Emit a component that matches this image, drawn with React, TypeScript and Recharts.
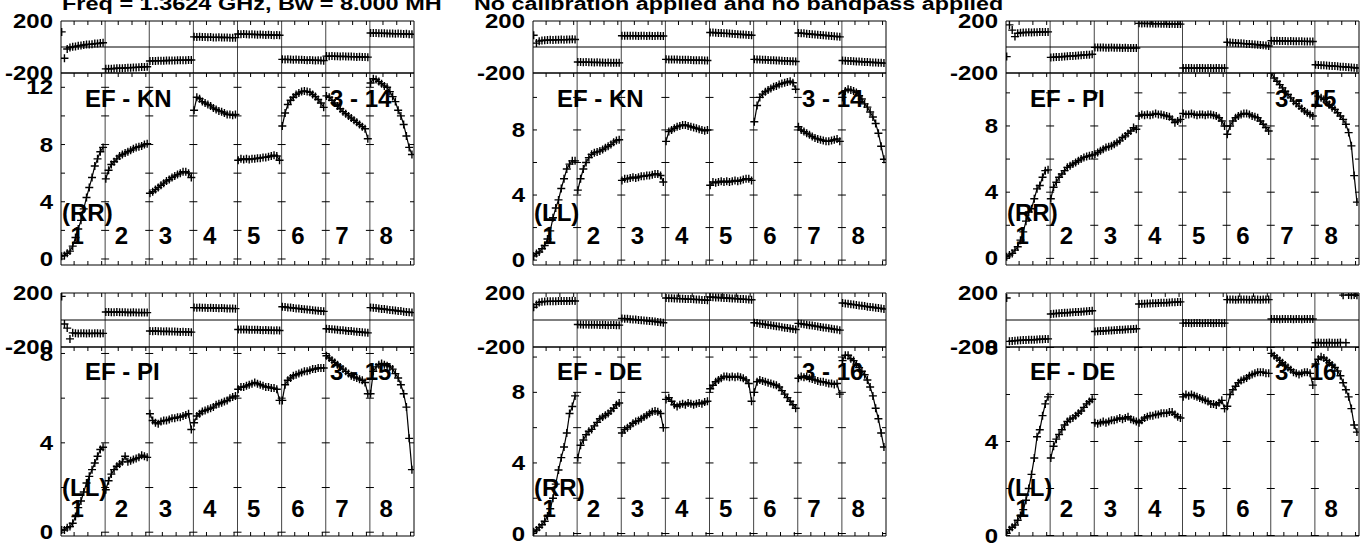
import React from 'react';
import { ScatterChart, Scatter, XAxis, YAxis, ReferenceLine, ReferenceDot } from 'recharts';

// every other channel of a 32-channel IF is plotted
const CHANNELS = [1, 3, 5, 7, 9, 11, 13, 15, 17, 19, 21, 23, 25, 27, 29, 31];
const CH_PER_IF = 32;
const IF_NAMES = ['1', '2', '3', '4', '5', '6', '7', '8'];
const X_TICK_CHANNELS = [10, 20, 30];
const PHASE_LABELS = [200, -200];
const PHASE_DOMAIN = [-200, 200];

const TITLE_LEFT = 'Freq = 1.3624 GHz, Bw = 8.000 MH';
const TITLE_RIGHT = 'No calibration applied and no bandpass applied';

// EF - KN (RR)
const ampKnRR = [
  [0.2, 0.25, 0.4, 0.55, 0.9, 1.5, 2.1, 2.7, 3.5, 4.3, 5.0, 5.7, 6.5, 7.0, 7.5, 7.8],
  [5.6, 6.2, 6.6, 6.8, 7.0, 7.2, 7.3, 7.4, 7.5, 7.6, 7.7, 7.8, 7.85, 7.9, 8.0, 8.05],
  [4.6, 4.7, 4.85, 5.0, 5.15, 5.3, 5.45, 5.55, 5.7, 5.8, 5.9, 6.0, 6.1, 6.1, 6.0, 5.7],
  [10.4, 11.3, 11.2, 11.0, 10.9, 10.8, 10.7, 10.55, 10.45, 10.35, 10.3, 10.2, 10.1, 10.1, 10.05, 10.1],
  [6.9, 7.0, 6.95, 7.0, 6.95, 7.0, 7.0, 7.05, 7.05, 7.1, 7.1, 7.15, 7.2, 7.25, 7.2, 6.9],
  [9.3, 10.2, 10.8, 11.1, 11.3, 11.5, 11.6, 11.7, 11.75, 11.7, 11.65, 11.5, 11.35, 11.15, 10.9, 10.6],
  [11.4, 11.3, 11.1, 10.9, 10.7, 10.5, 10.3, 10.15, 10.0, 9.85, 9.7, 9.55, 9.4, 9.25, 9.1, 8.4],
  [12.3, 12.6, 12.55, 12.4, 12.25, 12.1, 12.0, 11.7, 11.35, 11.0, 10.4, 10.0, 9.4, 8.6, 7.8, 7.3],
];
const phsKnRR = [
  [116, -86, -15, -4, 1, 4, 9, 11, 15, 19, 20, 22, 26, 27, 30, 33],
  [-168, -167, -167, -165, -164, -163, -163, -161, -160, -159, -158, -157, -156, -154, -153, -152],
  [-108, -107, -107, -106, -105, -106, -104, -104, -103, -103, -102, -101, -101, -101, -100, -100],
  [78, 77, 78, 76, 76, 75, 76, 74, 74, 75, 73, 73, 74, 72, 72, 72],
  [100, 99, 100, 98, 97, 98, 96, 95, 96, 94, 93, 94, 92, 91, 92, 90],
  [-95, -96, -95, -97, -98, -97, -99, -99, -100, -101, -100, -102, -103, -102, -104, -105],
  [-70, -71, -70, -71, -72, -73, -72, -73, -74, -74, -75, -76, -75, -77, -77, -78],
  [108, 107, 108, 106, 105, 106, 104, 104, 103, 102, 103, 101, 100, 101, 99, 98],
];

// EF - KN (LL)
const ampKnLL = [
  [0.25, 0.4, 0.5, 0.7, 0.9, 1.3, 1.8, 2.6, 3.2, 3.7, 4.4, 5.0, 5.6, 5.9, 6.1, 6.1],
  [4.3, 5.0, 5.6, 6.0, 6.3, 6.5, 6.6, 6.65, 6.7, 6.8, 6.9, 7.0, 7.1, 7.25, 7.35, 7.4],
  [4.9, 5.0, 5.0, 5.05, 5.1, 5.05, 5.1, 5.15, 5.15, 5.2, 5.2, 5.25, 5.3, 5.3, 5.2, 4.8],
  [7.3, 7.9, 8.0, 8.1, 8.2, 8.25, 8.3, 8.3, 8.25, 8.2, 8.15, 8.1, 8.05, 8.0, 7.95, 8.0],
  [4.6, 4.8, 4.75, 4.8, 4.85, 4.8, 4.85, 4.8, 4.85, 4.9, 4.85, 4.9, 4.95, 5.0, 5.0, 4.9],
  [8.5, 9.5, 10.0, 10.2, 10.35, 10.45, 10.55, 10.65, 10.7, 10.8, 10.85, 10.9, 10.95, 11.0, 10.9, 10.5],
  [8.2, 8.0, 7.9, 7.8, 7.7, 7.6, 7.5, 7.45, 7.4, 7.35, 7.3, 7.3, 7.35, 7.4, 7.45, 7.3],
  [10.0, 10.4, 10.5, 10.45, 10.4, 10.3, 10.1, 9.9, 9.6, 9.4, 9.1, 8.8, 8.4, 7.8, 7.0, 6.2],
];
const phsKnLL = [
  [90, 30, 45, 50, 52, 53, 55, 54, 55, 56, 57, 56, 57, 58, 59, 58],
  [-115, -116, -117, -116, -117, -118, -119, -118, -119, -120, -121, -120, -121, -122, -121, -122],
  [86, 87, 86, 86, 87, 86, 85, 86, 86, 85, 86, 85, 85, 86, 85, 85],
  [-95, -96, -97, -96, -97, -98, -99, -98, -99, -100, -101, -101, -102, -101, -103, -104],
  [112, 111, 109, 108, 107, 105, 105, 103, 101, 100, 99, 97, 96, 94, 93, 90],
  [-95, -96, -97, -99, -99, -100, -102, -102, -103, -104, -106, -107, -107, -109, -110, -112],
  [108, 106, 105, 102, 100, 99, 96, 94, 93, 90, 88, 87, 84, 82, 81, 78],
  [-104, -105, -107, -107, -109, -111, -111, -113, -115, -115, -117, -119, -119, -121, -122, -124],
];

// EF - PI (RR)
const ampPiRR = [
  [0.1, 0.2, 0.3, 0.5, 0.7, 1.1, 1.6, 2.25, 2.8, 3.0, 3.6, 4.2, 4.4, 4.9, 5.3, 5.35],
  [3.6, 4.3, 4.6, 4.9, 5.1, 5.3, 5.5, 5.6, 5.7, 5.8, 5.9, 6.0, 6.1, 6.15, 6.2, 6.25],
  [6.3, 6.4, 6.5, 6.6, 6.7, 6.75, 6.8, 6.9, 7.0, 7.1, 7.3, 7.4, 7.55, 7.7, 7.9, 7.8],
  [8.6, 8.7, 8.65, 8.7, 8.65, 8.7, 8.75, 8.7, 8.7, 8.65, 8.6, 8.55, 8.4, 8.2, 8.3, 8.4],
  [8.75, 8.7, 8.7, 8.75, 8.7, 8.65, 8.7, 8.7, 8.65, 8.7, 8.7, 8.65, 8.6, 8.5, 8.3, 8.0],
  [7.5, 8.0, 8.3, 8.5, 8.6, 8.7, 8.75, 8.75, 8.7, 8.6, 8.55, 8.5, 8.3, 8.1, 7.9, 7.7],
  [11.2, 10.9, 10.7, 10.5, 10.3, 10.1, 9.9, 9.7, 9.5, 9.35, 9.2, 9.05, 8.9, 8.8, 8.7, 8.6],
  [9.3, 9.8, 9.7, 9.6, 9.45, 9.3, 9.1, 9.0, 8.8, 8.6, 8.4, 8.1, 7.6, 6.8, 5.0, 3.4],
];
const phsPiRR = [
  [-74, 170, 130, 80, 105, 110, 111, 112, 113, 112, 114, 114, 115, 116, 115, 116],
  [-80, -79, -77, -76, -75, -73, -71, -70, -69, -67, -65, -64, -62, -60, -59, -56],
  [-3, -4, -3, -4, -5, -5, -4, -5, -6, -6, -7, -6, -7, -8, -7, -8],
  [182, 181, 182, 180, 181, 180, 179, 180, 178, 179, 178, 177, 178, 176, 177, 176],
  [-162, -161, -162, -162, -163, -162, -161, -162, -163, -162, -161, -163, -162, -162, -163, -162],
  [36, 34, 33, 31, 29, 28, 26, 24, 23, 21, 19, 17, 15, 13, 11, 8],
  [48, 47, 48, 47, 46, 46, 45, 46, 45, 44, 45, 44, 43, 43, 42, 42],
  [-137, -139, -140, -141, -143, -145, -146, -147, -149, -151, -152, -154, -156, -157, -160, -162],
];

// EF - PI (LL)
const ampPiLL = [
  [0.1, 0.1, 0.2, 0.25, 0.4, 0.7, 1.1, 1.4, 1.8, 2.2, 2.5, 2.8, 3.1, 3.4, 3.7, 3.8],
  [1.9, 2.3, 2.6, 2.8, 2.95, 3.05, 3.15, 3.4, 3.15, 3.2, 3.25, 3.3, 3.35, 3.45, 3.4, 3.35],
  [5.3, 5.0, 4.9, 4.85, 4.95, 5.0, 5.0, 5.05, 5.1, 5.1, 5.15, 5.15, 5.2, 5.25, 5.3, 4.6],
  [4.9, 5.2, 5.3, 5.4, 5.45, 5.5, 5.55, 5.6, 5.7, 5.75, 5.8, 5.85, 5.9, 6.0, 6.05, 6.1],
  [6.4, 6.5, 6.5, 6.55, 6.6, 6.65, 6.7, 6.65, 6.6, 6.55, 6.5, 6.5, 6.45, 6.45, 6.4, 5.9],
  [5.9, 6.6, 6.8, 6.9, 7.0, 7.05, 7.1, 7.15, 7.2, 7.2, 7.25, 7.3, 7.3, 7.35, 7.35, 7.35],
  [7.9, 7.8, 7.7, 7.6, 7.5, 7.4, 7.3, 7.2, 7.1, 7.0, 6.95, 6.9, 6.85, 6.8, 6.7, 6.2],
  [6.2, 7.2, 7.4, 7.5, 7.55, 7.5, 7.45, 7.4, 7.3, 7.1, 6.9, 6.6, 6.2, 5.6, 4.2, 2.8],
];
const phsPiLL = [
  [175, -30, -60, -140, -95, -98, -100, -98, -99, -100, -99, -100, -98, -99, -100, -99],
  [59, 60, 58, 58, 59, 57, 57, 58, 56, 56, 57, 55, 55, 56, 55, 55],
  [-82, -83, -82, -83, -84, -85, -84, -85, -86, -86, -87, -88, -87, -88, -89, -90],
  [92, 91, 92, 91, 90, 89, 90, 89, 88, 87, 88, 87, 86, 85, 86, 84],
  [-70, -71, -70, -71, -72, -73, -72, -73, -74, -75, -74, -75, -76, -77, -76, -78],
  [98, 96, 93, 92, 89, 86, 85, 82, 80, 77, 76, 73, 71, 68, 67, 64],
  [-65, -67, -69, -70, -73, -75, -76, -79, -81, -82, -85, -87, -88, -91, -93, -95],
  [92, 90, 88, 85, 82, 81, 77, 75, 73, 70, 67, 66, 62, 60, 58, 55],
];

// EF - DE (RR)
const ampDeRR = [
  [0.1, 0.2, 0.35, 0.5, 0.7, 1.0, 1.4, 2.0, 2.8, 3.6, 4.3, 4.9, 5.7, 6.8, 7.2, 7.8],
  [4.3, 5.0, 5.3, 5.6, 5.8, 5.9, 6.1, 6.3, 6.5, 6.6, 6.7, 6.8, 6.95, 7.1, 7.3, 7.4],
  [5.7, 5.9, 6.0, 6.1, 6.25, 6.35, 6.4, 6.5, 6.6, 6.7, 6.8, 6.9, 6.95, 6.9, 6.8, 6.0],
  [7.6, 7.7, 7.5, 7.3, 7.2, 7.3, 7.35, 7.3, 7.4, 7.35, 7.3, 7.35, 7.4, 7.35, 7.45, 7.5],
  [8.2, 8.4, 8.6, 8.7, 8.8, 8.9, 8.9, 8.85, 8.9, 8.85, 8.9, 8.85, 8.8, 8.7, 8.5, 7.5],
  [8.0, 8.6, 8.7, 8.65, 8.6, 8.55, 8.5, 8.45, 8.4, 8.3, 8.1, 7.9, 7.7, 7.5, 7.3, 7.1],
  [8.8, 8.9, 8.85, 8.9, 8.8, 8.75, 8.7, 8.65, 8.6, 8.6, 8.55, 8.5, 8.5, 8.45, 8.5, 7.9],
  [9.8, 10.1, 10.1, 9.9, 9.8, 9.6, 9.4, 9.2, 9.0, 8.7, 8.3, 7.8, 7.1, 6.5, 5.7, 4.9],
];
const phsDeRR = [
  [95, 115, 130, 135, 137, 138, 139, 138, 139, 140, 141, 140, 141, 141, 142, 141],
  [-33, -34, -35, -34, -35, -36, -35, -36, -37, -36, -37, -38, -37, -37, -38, -38],
  [12, 10, 9, 6, 4, 3, 0, -2, -3, -6, -8, -9, -12, -15, -16, -20],
  [163, 162, 162, 160, 159, 158, 158, 156, 155, 155, 153, 152, 151, 149, 148, 146],
  [170, 169, 167, 167, 165, 163, 163, 161, 159, 159, 157, 155, 155, 153, 151, 150],
  [-20, -23, -27, -29, -33, -37, -39, -43, -47, -49, -53, -57, -59, -63, -67, -70],
  [-25, -28, -31, -35, -38, -41, -45, -48, -51, -55, -58, -61, -65, -68, -71, -75],
  [126, 123, 121, 117, 114, 112, 108, 105, 103, 99, 96, 94, 90, 88, 86, 82],
];

// EF - DE (LL)
const ampDeLL = [
  [0.1, 0.25, 0.35, 0.45, 0.65, 0.85, 1.1, 1.5, 2.0, 2.6, 3.3, 4.2, 4.5, 5.1, 5.6, 5.9],
  [3.3, 3.8, 4.1, 4.3, 4.5, 4.7, 4.85, 4.95, 5.0, 5.1, 5.2, 5.3, 5.45, 5.6, 5.7, 5.8],
  [4.8, 4.75, 4.8, 4.85, 4.8, 4.85, 4.9, 4.9, 4.95, 5.0, 4.95, 5.0, 5.05, 4.95, 4.9, 4.85],
  [4.8, 4.9, 5.0, 5.05, 5.1, 5.1, 5.15, 5.15, 5.2, 5.2, 5.2, 5.25, 5.25, 5.15, 5.05, 5.0],
  [5.9, 6.0, 5.95, 6.0, 5.95, 5.9, 5.85, 5.8, 5.75, 5.7, 5.6, 5.6, 5.55, 5.65, 5.75, 5.4],
  [5.5, 6.0, 6.2, 6.35, 6.5, 6.6, 6.65, 6.7, 6.8, 6.85, 6.9, 6.95, 6.95, 6.95, 6.9, 6.9],
  [7.75, 7.65, 7.55, 7.45, 7.35, 7.25, 7.15, 7.05, 6.95, 6.9, 6.85, 6.9, 6.95, 6.95, 6.9, 6.4],
  [7.3, 7.5, 7.6, 7.55, 7.45, 7.35, 7.25, 7.15, 7.0, 6.8, 6.5, 6.2, 5.9, 5.4, 4.7, 4.4],
];
const phsDeLL = [
  [163, -158, -155, -153, -152, -150, -149, -148, -147, -146, -146, -144, -143, -142, -141, -140],
  [45, 47, 48, 50, 52, 53, 54, 56, 57, 59, 60, 61, 63, 65, 66, 68],
  [-85, -84, -82, -81, -80, -78, -77, -76, -74, -73, -72, -70, -69, -68, -66, -65],
  [119, 120, 121, 122, 123, 124, 124, 126, 127, 128, 128, 130, 131, 132, 133, 134],
  [-23, -22, -23, -24, -23, -22, -23, -24, -23, -23, -22, -24, -23, -23, -24, -23],
  [151, 152, 151, 150, 151, 152, 151, 151, 150, 152, 151, 151, 150, 151, 152, 151],
  [7, 8, 7, 6, 7, 8, 7, 7, 6, 8, 7, 6, 7, 8, 7, 7],
  [-168, -167, -168, -169, -168, -167, -168, -169, -168, -167, 184, -168, 185, 184, 186, 183],
];

const FONT = '"Liberation Sans", Arial, Helvetica, sans-serif';
const INK = '#000';
const SQUASH = 0.82;

const W = 353;
const IF_W = W / 8;
const LPAD = 70;
const RPAD = 8;
const VPAD = 16;

const ROWS = [
  { phTop: 21, phH: 52, ampTop: 73, ampH: 192, nameY: 107, polY: 221, ifY: 244 },
  { phTop: 293, phH: 54, ampTop: 347, ampH: 189, nameY: 380, polY: 496, ifY: 517 },
];

const PANELS = [
  { name: 'EF - KN', ants: '3 - 14', pol: '(RR)', amp: ampKnRR, phs: phsKnRR, domain: [-0.42, 13], ticks: [0, 2, 4, 6, 8, 10, 12], labels: [0, 4, 8, 12], left: 61, row: 0 },
  { name: 'EF - KN', ants: '3 - 14', pol: '(LL)', amp: ampKnLL, phs: phsKnLL, domain: [-0.3, 11.5], ticks: [0, 2, 4, 6, 8, 10], labels: [0, 4, 8], left: 533, row: 0 },
  { name: 'EF - PI', ants: '3 - 15', pol: '(RR)', amp: ampPiRR, phs: phsPiRR, domain: [-0.4, 11.2], ticks: [0, 2, 4, 6, 8, 10], labels: [0, 4, 8], left: 1006, row: 0 },
  { name: 'EF - PI', ants: '3 - 15', pol: '(LL)', amp: ampPiLL, phs: phsPiLL, domain: [-0.17, 8.29], ticks: [0, 2, 4, 6, 8], labels: [0, 4, 8], left: 61, row: 1 },
  { name: 'EF - DE', ants: '3 - 16', pol: '(RR)', amp: ampDeRR, phs: phsDeRR, domain: [-0.14, 10.57], ticks: [0, 2, 4, 6, 8, 10], labels: [0, 4, 8], left: 533, row: 1 },
  { name: 'EF - DE', ants: '3 - 16', pol: '(LL)', amp: ampDeLL, phs: phsDeLL, domain: [-0.02, 8.02], ticks: [0, 2, 4, 6, 8], labels: [0, 4, 8], left: 1006, row: 1 },
];

const X_DOMAIN = [0.5, IF_NAMES.length * CH_PER_IF + 0.5];
const IF_EDGES = [...IF_NAMES.map((_, i) => i * CH_PER_IF + 0.5), IF_NAMES.length * CH_PER_IF + 0.5];
const X_TICKS = IF_NAMES.flatMap((_, i) => X_TICK_CHANNELS.map((c) => i * CH_PER_IF + c));

const toPoints = (vals: number[], i: number) => CHANNELS.map((ch, k) => ({ x: i * CH_PER_IF + ch, y: vals[k] }));

const Cross = (p: any) => {
  const { cx, cy } = p;
  if (cx == null || cy == null) return <g />;
  return <path d={`M${cx - 4},${cy}h8M${cx},${cy - 4}v8`} stroke={INK} strokeWidth={1.4} fill="none" />;
};

const tickShape = (dx0: number, dx1: number, dy0: number, dy1: number) => (p: any) => (
  <line x1={p.cx + dx0} x2={p.cx + dx1} y1={p.cy + dy0} y2={p.cy + dy1} stroke={INK} strokeWidth={1} />
);
const TICK = 4;
const hLeftEdge = tickShape(0, TICK, 0, 0);
const hRightEdge = tickShape(-TICK, 0, 0, 0);
const hBoth = tickShape(-TICK, TICK, 0, 0);
const vUp = tickShape(0, 0, -TICK, 0);
const vDown = tickShape(0, 0, 0, TICK);

// tick labels are wide and flat, as in the AIPS plot
const renderAxisLabel = (props: any) => {
  const { x, y, payload } = props;
  return (
    <g transform={`translate(${x},${y}) scale(1,${SQUASH})`}>
      <text x={0} y={8.6} textAnchor="end" fontSize={24} fontWeight={700} fontFamily={FONT} fill={INK}>
        {String(payload.value)}
      </text>
    </g>
  );
};

function Subplot(props: {
  left: number; top: number; h: number; domain: number[]; series: number[][];
  labels: number[]; yTicks: number[]; kind: 'amp' | 'phase';
}) {
  const { left, top, h, domain, series, labels, yTicks, kind } = props;
  const yMin = domain[0];
  const yMax = domain[1];
  return (
    <div style={{ position: 'absolute', left: left - LPAD, top: top - VPAD }}>
      <ScatterChart width={LPAD + W + RPAD} height={h + 2 * VPAD} margin={{ top: VPAD, right: RPAD, bottom: VPAD, left: 0 }}>
        <XAxis type="number" dataKey="x" domain={X_DOMAIN} allowDataOverflow hide />
        <YAxis
          type="number"
          dataKey="y"
          domain={domain}
          allowDataOverflow
          width={LPAD}
          ticks={labels}
          interval={0}
          tickLine={false}
          axisLine={false}
          tickSize={0}
          tickMargin={8}
          tick={renderAxisLabel}
        />
        {IF_EDGES.map((b, i) => (
          <ReferenceLine key={`e${i}`} x={b} stroke={i === 0 || i === IF_EDGES.length - 1 ? INK : '#444'} strokeWidth={1} ifOverflow="visible" />
        ))}
        <ReferenceLine y={yMin} stroke={INK} strokeWidth={1} ifOverflow="visible" />
        <ReferenceLine y={yMax} stroke={INK} strokeWidth={1} ifOverflow="visible" />
        {kind === 'phase' && <ReferenceLine y={0} stroke={INK} strokeWidth={1} />}
        {kind === 'amp' &&
          IF_EDGES.flatMap((b, i) =>
            yTicks.map((v) => (
              <ReferenceDot
                key={`h${i}-${v}`}
                x={b}
                y={v}
                r={0}
                ifOverflow="visible"
                shape={i === 0 ? hLeftEdge : i === IF_EDGES.length - 1 ? hRightEdge : hBoth}
              />
            ))
          )}
        {X_TICKS.map((t) => (
          <ReferenceDot key={`t${t}`} x={t} y={yMax} r={0} ifOverflow="visible" shape={vDown} />
        ))}
        {kind === 'amp' &&
          X_TICKS.map((t) => <ReferenceDot key={`b${t}`} x={t} y={yMin} r={0} ifOverflow="visible" shape={vUp} />)}
        {series.map((vals, i) => (
          <Scatter
            key={`s${i}`}
            data={toPoints(vals, i)}
            shape={Cross}
            fill={INK}
            stroke={INK}
            line={kind === 'amp' ? { stroke: INK, strokeWidth: 1.2 } : false}
            isAnimationActive={false}
          />
        ))}
      </ScatterChart>
    </div>
  );
}

const textStyle = { fontFamily: FONT, fontWeight: 'bold' as const, fill: INK };

export default function App() {
  return (
    <div style={{ position: 'absolute', left: 0, top: 0, width: 1366, height: 543, overflow: 'hidden', background: '#fff' }}>
      {PANELS.map((p, idx) => {
        const r = ROWS[p.row];
        return (
          <React.Fragment key={idx}>
            <Subplot left={p.left} top={r.phTop} h={r.phH} domain={PHASE_DOMAIN} series={p.phs} labels={PHASE_LABELS} yTicks={[]} kind="phase" />
            <Subplot left={p.left} top={r.ampTop} h={r.ampH} domain={p.domain} series={p.amp} labels={p.labels} yTicks={p.ticks} kind="amp" />
          </React.Fragment>
        );
      })}
      <svg width={1366} height={543} style={{ position: 'absolute', left: 0, top: 0, pointerEvents: 'none' }}>
        <g transform={`translate(0,10) scale(1,${SQUASH})`}>
          <text x={62} y={0} fontSize={23.5} {...textStyle}>{TITLE_LEFT}</text>
          <text x={474} y={0} fontSize={23.3} {...textStyle}>{TITLE_RIGHT}</text>
        </g>
        {PANELS.map((p, idx) => {
          const r = ROWS[p.row];
          return (
            <g key={idx} fontSize={24} {...textStyle}>
              <text x={p.left + 24} y={r.nameY}>{p.name}</text>
              <text x={p.left + 269} y={r.nameY}>{p.ants}</text>
              <text x={p.left + 1} y={r.polY}>{p.pol}</text>
              {IF_NAMES.map((n, i) => (
                <text key={n} x={p.left + i * IF_W + 9.5} y={r.ifY}>{n}</text>
              ))}
            </g>
          );
        })}
      </svg>
    </div>
  );
}
